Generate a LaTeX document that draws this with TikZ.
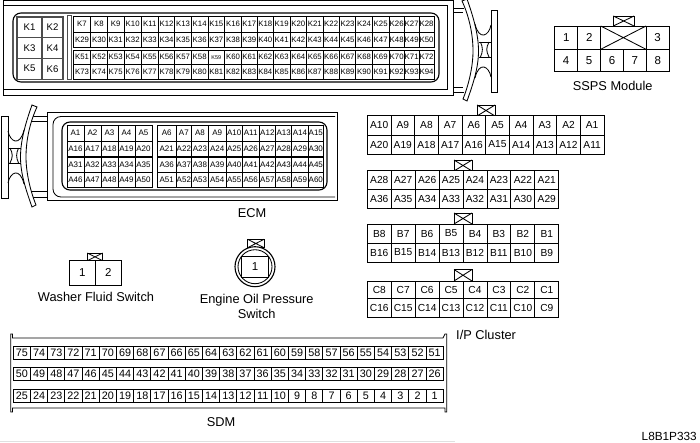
\documentclass[tikz,border=0pt]{standalone}
\usepackage{fontspec}
\setmainfont{Liberation Sans}
\tikzset{
  x=1pt,y=-1pt,
  ln/.style={draw=black,line width=0.85pt},
  thick ln/.style={draw=black,line width=1.1pt},
  cellbox/.style={draw=black,line width=0.9pt,fill=white,inner sep=0pt,outer sep=0pt,align=center},
  graycell/.style={cellbox,draw=black!70,line width=1.1pt},
  fK/.style={font=\fontsize{7.8}{8}\selectfont},
  fA/.style={font=\fontsize{8}{8}\selectfont},
  fB/.style={font=\fontsize{10.2}{10}\selectfont},
  fS/.style={font=\fontsize{10.8}{11}\selectfont},
  fN/.style={font=\fontsize{11.5}{12}\selectfont},
  fK1/.style={font=\fontsize{9.6}{10}\selectfont},
  lbl/.style={font=\fontsize{12.8}{15}\selectfont,inner sep=0pt,align=center},
}
% prefix, x array, y0, y1, style, labels
\newcommand{\acells}[6]{%
  \foreach \lab [count=\idx from 0] in {#6} {%
    \pgfmathsetmacro\xa{#2[\idx]}%
    \pgfmathsetmacro\xb{#2[\idx+1]}%
    \pgfmathsetmacro\cw{\xb-\xa}%
    \pgfmathsetmacro\ch{#4-#3}%
    \pgfmathsetmacro\xm{(\xa+\xb)/2}%
    \pgfmathsetmacro\ym{(#3+#4)/2}%
    \node[cellbox,#5,minimum width=\cw pt,minimum height=\ch pt] (#1\lab) at (\xm,\ym) {\lab};%
  }}
% prefix, x0, dx, y0, y1, style, labels
\newcommand{\ucells}[7]{%
  \foreach \lab [count=\idx from 0] in {#7} {%
    \pgfmathsetmacro\xm{#2+(\idx+0.5)*#3}%
    \pgfmathsetmacro\ch{#5-#4}%
    \pgfmathsetmacro\ym{(#4+#5)/2}%
    \node[cellbox,#6,minimum width=#3 pt,minimum height=\ch pt] (#1\lab) at (\xm,\ym) {\lab};%
  }}
% key box with a cross
\newcommand{\keybox}[4]{%
  \draw[ln,fill=white] (#1,#2) rectangle (#3,#4);
  \draw[ln] (#1,#2) -- (#3,#4) (#1,#4) -- (#3,#2);}
% latch, drawn for the left hand side
\newcommand{\latch}{%
  \draw[ln,fill=white] (1.5,116) rectangle (8,198);
  \draw[ln,fill=white] (32,105) .. controls (26,122) and (20.5,140) .. (20.5,157)
     .. controls (20.5,174) and (26,190) .. (32,207) -- (36,205)
     .. controls (30,190) and (26,172) .. (26,157)
     .. controls (26,140) and (30,122) .. (37,107) -- cycle;
  \draw[ln] (8,131) .. controls (10,142) and (20,147) .. (24,130);
  \draw[ln] (8,183) .. controls (10,172) and (20,167) .. (24,184);
  \draw[ln] (8,148) -- (20.5,148) (8,163) -- (20.5,163);
  \draw[ln] (10,148) .. controls (13,154) and (13,157) .. (10,163);
  \draw[ln] (18.5,148) .. controls (16,154) and (16,157) .. (18.5,163);}
\begin{document}
\begin{tikzpicture}
\useasboundingbox (0,0) rectangle (700,442);
\fill[white] (0,0) rectangle (700,442);

% ---------- K connector (top) ----------
\draw[ln] (3,0.7) -- (453,0.7) -- (453,95) -- (3,95) -- cycle;
\draw[ln] (3,5) -- (447,5) -- (447,89) -- (3,89);
\draw[ln] (453,8) -- (464,8) (453,12) -- (463,12) (453,87) -- (463,87) (453,92) -- (464,92);
\draw[thick ln,rounded corners=8pt] (13,13) rectangle (439,82);
\begin{scope}[shift={(499,-106)},xscale=-1]\latch\end{scope}
\foreach \lab [count=\idx from 0] in {K1,K2,K3,K4,K5,K6}{
  \pgfmathtruncatemacro\colno{mod(\idx,2)}
  \pgfmathtruncatemacro\rowno{int(\idx/2)}
  \pgfmathsetmacro\cw{\colno==0 ? 25 : 21}
  \pgfmathsetmacro\xm{\colno==0 ? 29.5 : 52.5}
  \pgfmathsetmacro\ym{27.3+\rowno*20.7}
  \node[graycell,fK1,minimum width=\cw pt,minimum height=20.7pt] (k\lab) at (\xm,\ym) {\lab};
}
\draw[draw=black!70,line width=0.9pt,fill=white] (67.5,15.5) rectangle (71,79);
\def\kx{{73.3,90.7,107.3,124,141.3,158.3,174.7,191.3,208,224.7,241.3,257.3,273.3,290,306.7,323,339.3,355.7,372.3,389,404.3,419,434}}
\acells{k}{\kx}{16.5}{32}{fK}{K7,K8,K9,K10,K11,K12,K13,K14,K15,K16,K17,K18,K19,K20,K21,K22,K23,K24,K25,K26,K27,K28}
\acells{k}{\kx}{32}{47}{fK}{K29,K30,K31,K32,K33,K34,K35,K36,K37,K38,K39,K40,K41,K42,K43,K44,K45,K46,K47,K48,K49,K50}
\acells{k}{\kx}{50}{64.5}{fK}{K51,K52,K53,K54,K55,K56,K57,K58}
\node[cellbox,minimum width=16.7pt,minimum height=14.5pt,font=\fontsize{5.5}{6}\selectfont] (kK59) at (216.35,57.25) {K59};
\def\kxb{{224.7,241.3,257.3,273.3,290,306.7,323,339.3,355.7,372.3,389,404.3,419,434}}
\acells{k}{\kxb}{50}{64.5}{fK}{K60,K61,K62,K63,K64,K65,K66,K67,K68,K69,K70,K71,K72}
\acells{k}{\kx}{64.5}{79}{fK}{K73,K74,K75,K76,K77,K78,K79,K80,K81,K82,K83,K84,K85,K86,K87,K88,K89,K90,K91,K92,K93,K94}

% ---------- ECM (A) connector ----------
\draw[ln] (47,112) rectangle (337,200);
\draw[ln,rounded corners=8pt] (335,116.5) -- (53,116.5) -- (53,197) -- (335,197);
\draw[ln] (30,116) -- (47,116) (29,121) -- (47,121) (29,191) -- (47,191) (30,197) -- (47,197);
\draw[thick ln,rounded corners=8pt] (62,122) rectangle (327,190);
\latch
\def\ax{{67,84,101,118,135,152}}
\def\bx{{157.3,176,191.7,208.3,226,242.3,259,275.7,291.7,308.3,323.3}}
\acells{e}{\ax}{125}{141}{fA}{A1,A2,A3,A4,A5}
\acells{e}{\ax}{141}{156}{fA}{A16,A17,A18,A19,A20}
\acells{e}{\ax}{157.5}{172}{fA}{A31,A32,A33,A34,A35}
\acells{e}{\ax}{172}{187}{fA}{A46,A47,A48,A49,A50}
\acells{e}{\bx}{125}{141}{fA}{A6,A7,A8,A9,A10,A11,A12,A13,A14,A15}
\acells{e}{\bx}{141}{156}{fA}{A21,A22,A23,A24,A25,A26,A27,A28,A29,A30}
\acells{e}{\bx}{157.5}{172}{fA}{A36,A37,A38,A39,A40,A41,A42,A43,A44,A45}
\acells{e}{\bx}{172}{187}{fA}{A51,A52,A53,A54,A55,A56,A57,A58,A59,A60}
\node[lbl] (ecm) at (252,213) {ECM};

% ---------- SSPS ----------
\keybox{613.3}{16}{634}{26}
\def\sa{{554.7,577.7,600.7}}
\acells{s}{\sa}{26}{49.3}{fN}{1,2}
\draw[ln,fill=white] (600.7,26) rectangle (646,49.3);
\draw[ln] (600.7,26) -- (646,49.3) (600.7,49.3) -- (646,26);
\node[cellbox,fN,minimum width=23.3pt,minimum height=23.3pt] (s3) at (657.65,37.65) {3};
\ucells{s}{554.7}{22.92}{49.3}{71.7}{fN}{4,5,6,7,8}
\node[lbl] (ssps) at (612.7,86) {SSPS Module};

% ---------- I/P cluster ----------
\keybox{477}{105}{495}{116}
\ucells{i}{367.3}{23.67}{115.7}{135}{fB}{A10,A9,A8,A7,A6,A5,A4,A3,A2,A1}
\ucells{i}{367.3}{23.67}{135}{154}{fB}{A20,A19,A18,A17,A16,A15,A14,A13,A12,A11}
\keybox{454}{160}{472}{171}
\ucells{i}{367.3}{23.93}{170.7}{189}{fB}{A28,A27,A26,A25,A24,A23,A22,A21}
\ucells{i}{367.3}{23.93}{189}{208.7}{fB}{A36,A35,A34,A33,A32,A31,A30,A29}
\keybox{454}{213}{472}{224}
\ucells{i}{367.3}{23.93}{224}{243}{fB}{B8,B7,B6,B5,B4,B3,B2,B1}
\ucells{i}{367.3}{23.93}{243}{262}{fB}{B16,B15,B14,B13,B12,B11,B10,B9}
\keybox{454}{269.5}{472}{281}
\ucells{i}{367.3}{23.93}{281}{298}{fB}{C8,C7,C6,C5,C4,C3,C2,C1}
\ucells{i}{367.3}{23.93}{298}{317}{fB}{C16,C15,C14,C13,C12,C11,C10,C9}
\node[lbl,anchor=west] (ip) at (456,335) {I/P Cluster};

% ---------- Washer fluid switch ----------
\keybox{87.3}{253}{102.7}{260.7}
\ucells{w}{69.3}{26}{260.7}{285}{fN}{1,2}
\node[lbl] (washer) at (96,297.3) {Washer Fluid Switch};

% ---------- Engine oil pressure switch ----------
\keybox{247.7}{239.3}{264}{247.7}
\draw[thick ln,fill=white] (255,266.7) circle (20);
\draw[ln] (255,266.7) circle (17);
\node[cellbox,fN,minimum width=26.6pt,minimum height=20.6pt] (oil1) at (255,267) {1};
\node[lbl] (oil) at (256.7,306.8) {Engine Oil Pressure\\Switch};

% ---------- SDM ----------
\draw[ln] (10.7,334) -- (10.7,412) -- (12.5,412) -- (12.5,408) -- (445,408) -- (445,412) -- (446.7,412) -- (446.7,334) -- (445,334) -- (443,338) -- (12.5,338) -- (12.5,334) -- cycle;
\ucells{d}{13.3}{17.2}{346.7}{359}{fS}{75,74,73,72,71,70,69,68,67,66,65,64,63,62,61,60,59,58,57,56,55,54,53,52,51}
\ucells{d}{13.3}{17.2}{367.7}{380.7}{fS}{50,49,48,47,46,45,44,43,42,41,40,39,38,37,36,35,34,33,32,31,30,29,28,27,26}
\ucells{d}{13.3}{17.2}{389}{402.3}{fS}{25,24,23,22,21,20,19,18,17,16,15,14,13,12,11,10,9,8,7,6,5,4,3,2,1}
\node[lbl] (sdm) at (221,421.7) {SDM};

\draw[black!12,line width=0.7pt] (0,441.5) -- (455,441.5);
\node[font=\fontsize{11.8}{12}\selectfont,inner sep=0pt,anchor=east] (code) at (697,436) {L8B1P333};
\end{tikzpicture}
\end{document}
